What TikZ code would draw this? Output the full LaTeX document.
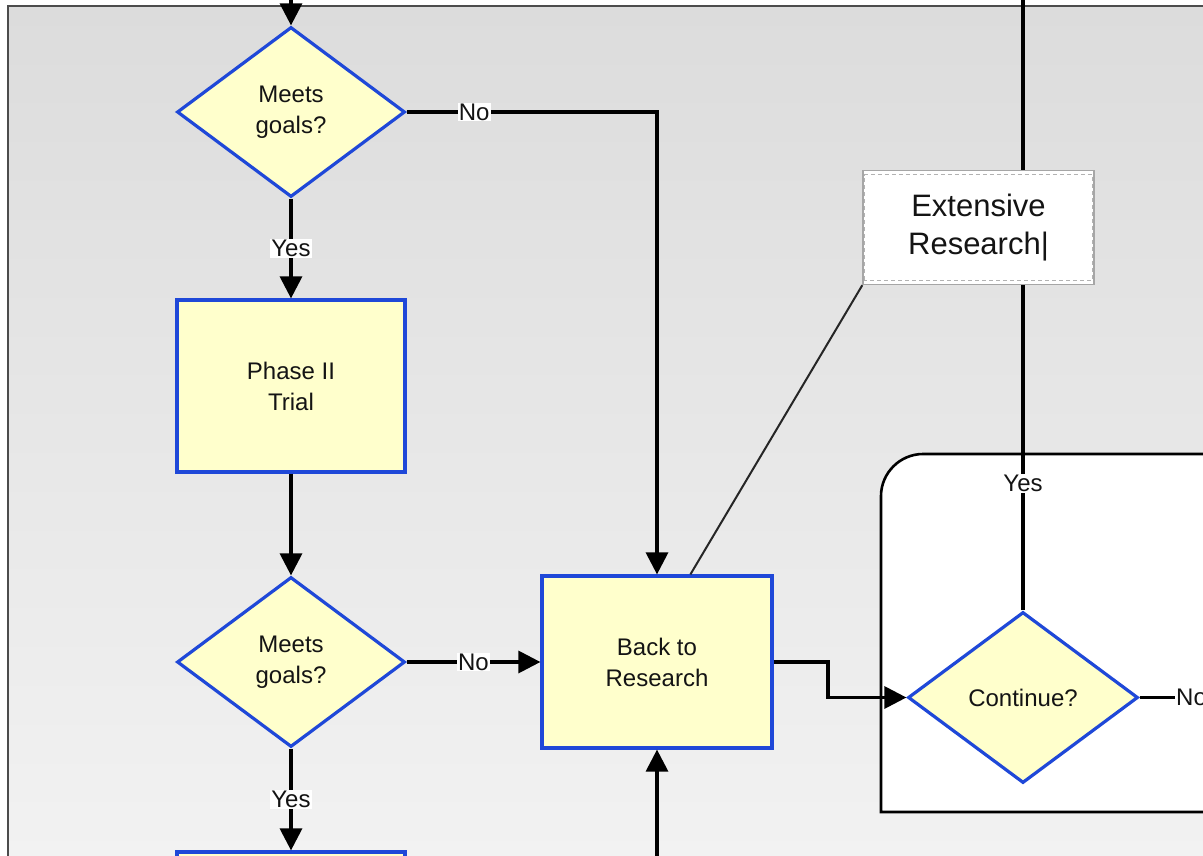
\documentclass[tikz,border=0pt]{standalone}
\usepackage{fontspec}
\setmainfont{Liberation Sans}
\usetikzlibrary{shapes.geometric,arrows.meta,calc}
\definecolor{boxfill}{HTML}{FFFFCC}
\definecolor{boxline}{HTML}{1F48D8}
\definecolor{txt}{HTML}{141414}
\definecolor{bgtop}{HTML}{DCDCDC}
\definecolor{bgbot}{HTML}{F2F2F2}
\begin{document}
\begin{tikzpicture}[x=1pt,y=-1pt,
  every node/.style={text=txt},
  dec/.style={diamond, draw=boxline, fill=boxfill, line width=3.2pt, inner sep=0pt,
    minimum width=228pt, minimum height=170pt, align=center, font=\fontsize{24}{31}\selectfont},
  proc/.style={rectangle, draw=boxline, fill=boxfill, line width=3.2pt, inner sep=0pt,
    minimum width=228pt, minimum height=172pt, align=center, font=\fontsize{24}{31}\selectfont},
  lbl/.style={fill=white, inner sep=1pt, font=\fontsize{24}{28}\selectfont},
  conn/.style={line width=3.2pt, draw=black},
  arr/.style={conn, -{Triangle[length=22pt,width=22pt]}},
  note/.style={rectangle, fill=white, draw=gray!70, line width=1.4pt, minimum width=231pt,
    minimum height=114pt, align=center, font=\fontsize{31}{38}\selectfont}
]
\useasboundingbox (0,0) rectangle (1203,856);
\begin{scope}
\clip (0,0) rectangle (1203,856);
% background and frame
\fill[white] (0,0) rectangle (1203,856);
\shade[top color=bgtop, bottom color=bgbot] (8,6) rectangle (1210,860);
\draw[line width=1.8pt, draw=black!70] (8,870) -- (8,6) -- (1215,6);
% container
\draw[line width=2.6pt, fill=white] (1230,454) -- (923,454) .. controls (900,454) and (881,473) .. (881,496) -- (881,812) -- (1230,812);

% nodes
\node[dec] (d1) at (291,112) {Meets\\goals?};
\node[proc] (p2) at (291,386) {Phase II\\Trial};
\node[dec] (d2) at (291,662) {Meets\\goals?};
\node[proc] (p3) at (291,938) {};
\node[proc, minimum width=230pt] (back) at (657,662) {Back to\\Research};
\node[dec, minimum width=230pt, minimum height=171pt] (cont) at (1023,697.5) {Continue?};

\coordinate (top) at (291,-10);
\coordinate (bot) at (657,880);
\coordinate (ct) at (1023,-10);
\coordinate (k1) at (828,662);
\coordinate (k2) at (828,697.5);

% connectors
\draw[arr] (top) -- (d1.north);
\draw[arr] (d1.east) -- node[lbl, pos=0.27] (no1) {No} (d1.east -| back.north) -- (back.north);
\draw[arr] (d1.south) -- node[lbl] (yes1) {Yes} (p2.north);
\draw[arr] (p2.south) -- (d2.north);
\draw[arr] (d2.east) -- node[lbl] (no2) {No} (back.west);
\draw[arr] (d2.south) -- node[lbl] (yes2) {Yes} (p3.north);
\draw[arr] (bot) -- (back.south);
\draw[arr] (back.east) -- (k1) -- (k2) -- (cont.west);
\draw[conn] (cont.north) -- node[lbl, pos=0.204] (yes3) {Yes} (ct);
\node[lbl, anchor=west] (no3) at (1175,697.5) {No};
\draw[conn] (cont.east) -- (no3.west);

% callout
\node[note] (ext) at (978.5,227.5) {Extensive\\Research|};
\draw[draw=gray!60, line width=1.2pt, dash pattern=on 4pt off 3pt]
  ($(ext.south west)+(2,-5)$) rectangle ($(ext.north east)+(-2,5)$);
\draw[line width=2pt, draw=black!85] (ext.south west) -- ($(back.north west)+(150,0)$);
\end{scope}
\end{tikzpicture}
\end{document}
